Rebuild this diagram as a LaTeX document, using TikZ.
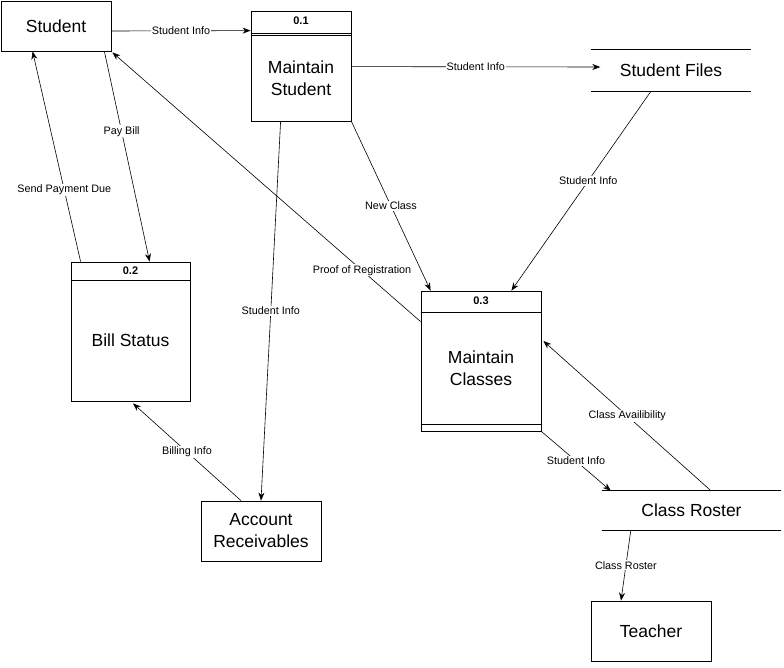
\documentclass[tikz,border=0pt]{standalone}
\usepackage{fontspec}
\setmainfont{Liberation Sans}
\usetikzlibrary{arrows.meta}
\begin{document}
\begin{tikzpicture}[x=1pt,y=-1pt,
  big/.style={font=\fontsize{17.5}{22}\selectfont, align=center},
  ent/.style={draw, line width=0.8pt, inner sep=0pt, big},
  proc/.style={draw, line width=0.8pt, inner sep=0pt},
  store/.style={inner sep=0pt, big},
  hdr/.style={font=\fontsize{11}{12}\selectfont\bfseries, inner sep=0pt},
  flow/.style={draw, line width=0.6pt, -{Stealth[length=8pt,width=6pt]}},
  lbl/.style={fill=white, inner sep=1pt, font=\fontsize{10.8}{12}\selectfont}]
\useasboundingbox[fill=white] (0,0) rectangle (784,667);
% entities
\node[ent, minimum width=110pt, minimum height=50pt] (stu) at (56,26) {Student};
\node[ent, minimum width=120pt, minimum height=60pt] (ar) at (261,531) {Account\\Receivables};
\node[ent, minimum width=120pt, minimum height=60pt] (te) at (651,631) {Teacher};
% processes
\node[proc, minimum width=100pt, minimum height=110pt] (p1) at (301,66) {};
\draw[line width=0.8pt] ([yshift=-23pt]p1.north west) -- ([yshift=-23pt]p1.north east);
\draw[line width=0.8pt] ([yshift=-25pt]p1.north west) -- ([yshift=-25pt]p1.north east);
\node[hdr] (p1h) at (301,21) {0.1};
\node[big] (p1t) at (301,78) {Maintain\\Student};
\node[proc, minimum width=119pt, minimum height=139pt] (p2) at (130.5,331.5) {};
\draw[line width=0.8pt] ([yshift=-19pt]p2.north west) -- ([yshift=-19pt]p2.north east);
\node[hdr] (p2h) at (130.5,271) {0.2};
\node[big] (p2t) at (130.5,340) {Bill Status};
\node[proc, minimum width=120pt, minimum height=140pt] (p3) at (481,361) {};
\draw[line width=0.8pt] ([yshift=-22pt]p3.north west) -- ([yshift=-22pt]p3.north east);
\draw[line width=0.8pt] ([yshift=7pt]p3.south west) -- ([yshift=7pt]p3.south east);
\node[hdr] (p3h) at (481,301) {0.3};
\node[big] (p3t) at (481,368) {Maintain\\Classes};
% stores
\node[store, minimum width=159pt, minimum height=41pt] (sf) at (671,70.5) {Student Files};
\draw[line width=0.8pt] (sf.north west) -- (sf.north east) (sf.south west) -- (sf.south east);
\node[store, minimum width=179pt, minimum height=39pt] (cr) at (691.5,510.5) {Class Roster};
\draw[line width=0.8pt] (cr.north west) -- (cr.north east) (cr.south west) -- (cr.south east);
% flows
\draw[flow] ([yshift=-5pt]stu.east) -- node[lbl]{Student Info} ([yshift=-20pt]p1.north west);
\draw[flow] ([yshift=-56pt]p1.north east) -- node[lbl]{Student Info} ([xshift=9pt,yshift=3.5pt]sf.west);
\draw[flow] ([xshift=-7pt]stu.south east) -- node[lbl,pos=0.38]{Pay Bill} ([xshift=79pt]p2.north west);
\draw[flow] ([xshift=10pt]p2.north west) -- node[lbl,pos=0.34]{Send Payment Due} ([xshift=32pt]stu.south west);
\draw[flow] ([yshift=-31pt]p3.north west) -- node[lbl,pos=0.19]{Proof of Registration} ([xshift=1pt,yshift=-1pt]stu.south east);
\draw[flow] (p1.south east) -- node[lbl]{New Class} ([xshift=10pt]p3.north west);
\draw[flow] ([xshift=-20pt]sf.south) -- node[lbl,pos=0.45]{Student Info} ([xshift=-30pt]p3.north east);
\draw[flow] ([xshift=30pt]p1.south west) -- node[lbl]{Student Info} (ar.north);
\draw[flow] ([xshift=-20pt]ar.north) -- node[lbl]{Billing Info} ([xshift=2.5pt,yshift=-2pt]p2.south);
\draw[flow] ([xshift=19.5pt]cr.north) -- node[lbl]{Class Availibility} ([xshift=2pt,yshift=20pt]p3.east);
\draw[flow] (p3.south east) -- node[lbl]{Student Info} ([xshift=9pt]cr.north west);
\draw[flow] ([xshift=29pt]cr.south west) -- node[lbl]{Class Roster} ([xshift=-30pt]te.north);
\end{tikzpicture}
\end{document}
